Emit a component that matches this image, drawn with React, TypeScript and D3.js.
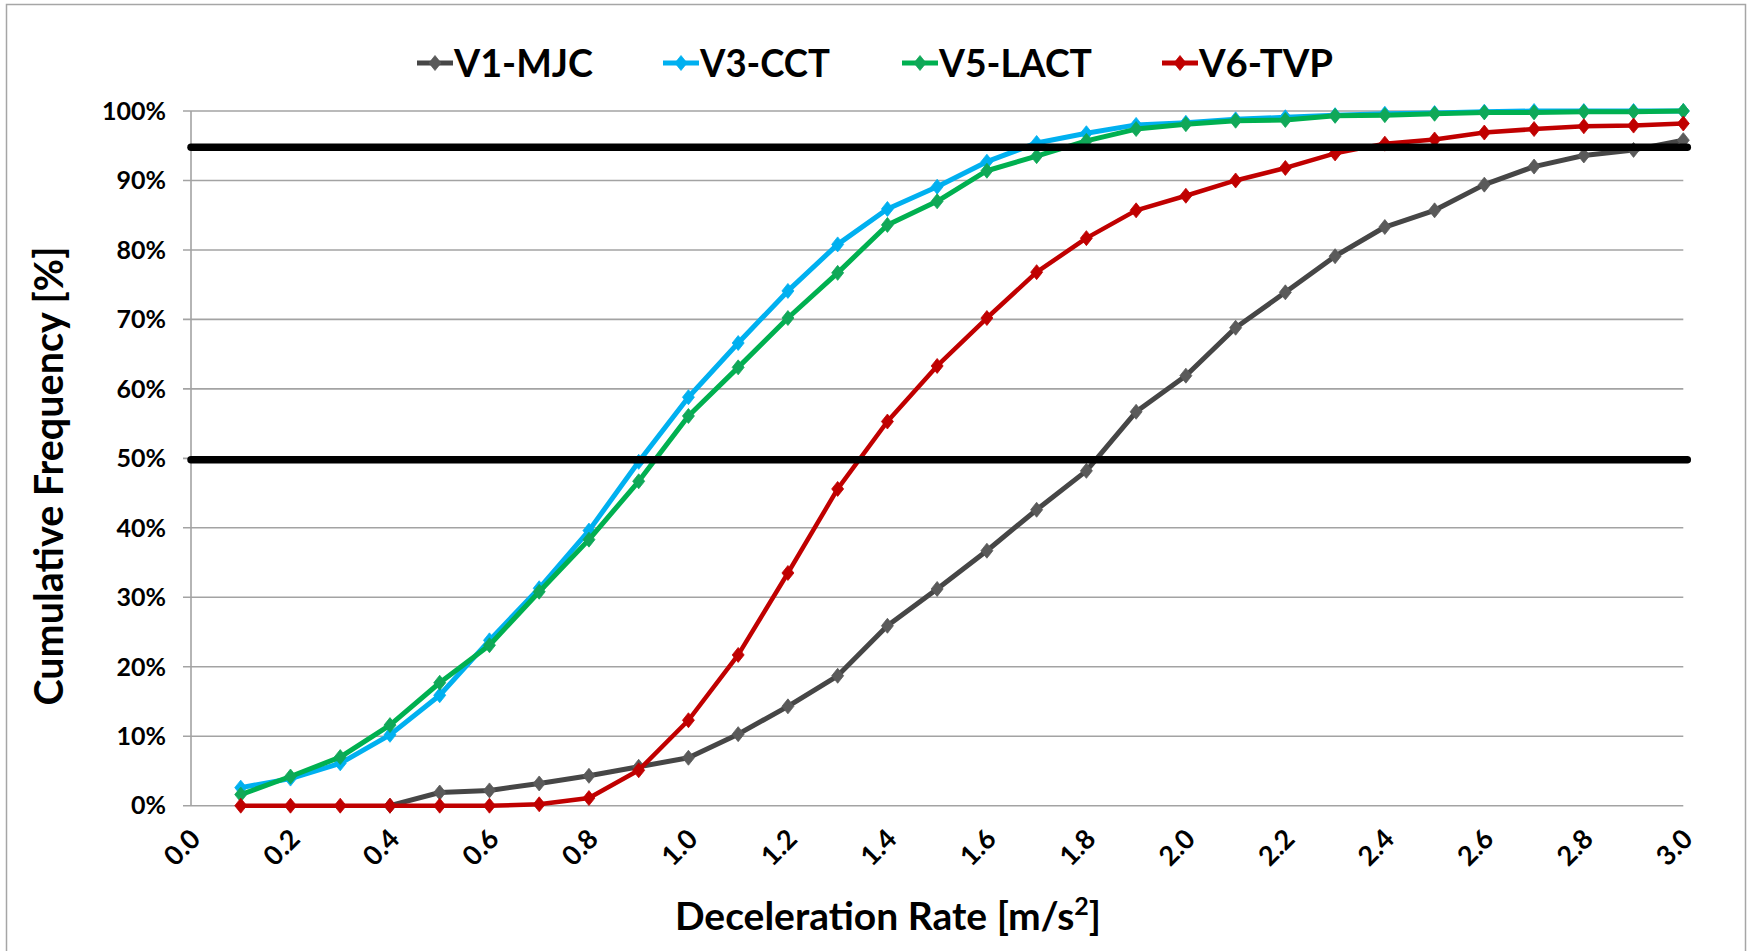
import React from "react";
import * as d3 from "d3";

const decelRate = [0.1, 0.2, 0.3, 0.4, 0.5, 0.6, 0.7, 0.8, 0.9, 1.0, 1.1, 1.2, 1.3, 1.4, 1.5, 1.6, 1.7, 1.8, 1.9, 2.0, 2.1, 2.2, 2.3, 2.4, 2.5, 2.6, 2.7, 2.8, 2.9, 3.0];

const v1MJC = [null, null, null, 0, 1.9, 2.2, 3.2, 4.3, 5.6, 6.9, 10.3, 14.3, 18.7, 25.9, 31.2, 36.7, 42.6, 48.2, 56.7, 61.9, 68.8, 73.9, 79.1, 83.3, 85.7, 89.4, 92.0, 93.6, 94.4, 95.8];
const v3CCT = [2.6, 3.9, 6.1, 10.2, 15.9, 23.8, 31.3, 39.6, 49.5, 58.8, 66.6, 74.1, 80.8, 85.9, 89.1, 92.7, 95.4, 96.8, 98.0, 98.3, 98.8, 99.1, 99.4, 99.6, 99.7, 99.9, 100, 100, 100, 100];
const v5LACT = [1.6, 4.2, 7.0, 11.6, 17.7, 23.1, 30.8, 38.3, 46.7, 56.1, 63.1, 70.2, 76.7, 83.6, 87.0, 91.4, 93.5, 95.7, 97.4, 98.1, 98.6, 98.7, 99.3, 99.4, 99.6, 99.8, 99.8, 99.9, 99.9, 100];
const v6TVP = [0, 0, 0, 0, 0, 0, 0.2, 1.1, 5.1, 12.3, 21.7, 33.5, 45.6, 55.3, 63.3, 70.2, 76.8, 81.7, 85.7, 87.8, 90.0, 91.8, 93.9, 95.3, 95.9, 96.9, 97.4, 97.8, 97.9, 98.2];

const seriesNames = ["V1-MJC", "V3-CCT", "V5-LACT", "V6-TVP"];
const referenceLevels = [95, 50];
const xTicks = [0, 0.2, 0.4, 0.6, 0.8, 1.0, 1.2, 1.4, 1.6, 1.8, 2.0, 2.2, 2.4, 2.6, 2.8, 3.0];
const yTicks = [0, 10, 20, 30, 40, 50, 60, 70, 80, 90, 100];

const FONT = "Lato, 'Open Sans', sans-serif";

export default function App() {
  const W = 1751;
  const H = 951;
  const x = d3.scaleLinear().domain([0, 3]).range([191, 1683.3]);
  const y = d3.scaleLinear().domain([0, 100]).range([805.7, 111]);

  const series = [
    { name: seriesNames[0], values: v1MJC, line: "#464646", marker: "#5a5a5a", width: 5 },
    { name: seriesNames[1], values: v3CCT, line: "#00b0f0", marker: "#00b0f0", width: 5 },
    { name: seriesNames[2], values: v5LACT, line: "#00b050", marker: "#10a858", width: 5 },
    { name: seriesNames[3], values: v6TVP, line: "#c00000", marker: "#c00000", width: 4.5 },
  ];

  const lineGen = d3
    .line<[number, number | null]>()
    .defined((d) => d[1] !== null)
    .x((d) => x(d[0]))
    .y((d) => y(d[1] as number));

  const diamond = "M0,-7.5L6,0L0,7.5L-6,0Z";

  const legend = [
    { lx: 417, tx: 454, w: 139 },
    { lx: 663, tx: 700, w: 130 },
    { lx: 902, tx: 939, w: 153 },
    { lx: 1162, tx: 1199, w: 134 },
  ];

  return (
    <svg
      width={W}
      height={H}
      style={{ position: "absolute", left: 0, top: 0, background: "#fff" }}
      fontFamily={FONT}
    >
      <rect x={0} y={0} width={W} height={H} fill="#fff" />
      <rect x={6.5} y={4.5} width={1739} height={1000} fill="none" stroke="#a6a6a6" strokeWidth={1.5} />

      {/* gridlines */}
      {yTicks.map((t) => (
        <line key={"g" + t} x1={183} x2={x(3)} y1={y(t)} y2={y(t)} stroke="#a3a3a3" strokeWidth={1.6} />
      ))}
      <line x1={x(0)} x2={x(0)} y1={y(100)} y2={y(0)} stroke="#a3a3a3" strokeWidth={1.6} />

      {/* y tick labels */}
      {yTicks.map((t) => (
        <text key={"yl" + t} x={166} y={y(t)} dy="0.35em" textAnchor="end" fontSize={25} fontWeight={700} fill="#000">
          {t + "%"}
        </text>
      ))}

      {/* x tick labels */}
      {xTicks.map((t) => (
        <text
          key={"xl" + t}
          transform={`translate(${x(t) + 11},${y(0) + 35}) rotate(-45)`}
          textAnchor="end"
          fontSize={27}
          fontWeight={700}
          fill="#000"
        >
          {t.toFixed(1)}
        </text>
      ))}

      {/* series */}
      {series.map((s) => {
        const pts = decelRate.map((d, i) => [d, s.values[i]] as [number, number | null]);
        return (
          <g key={s.name}>
            <path d={lineGen(pts) || ""} fill="none" stroke={s.line} strokeWidth={s.width} strokeLinejoin="round" />
            {pts
              .filter((p) => p[1] !== null)
              .map((p, i) => (
                <path key={i} d={diamond} transform={`translate(${x(p[0])},${y(p[1] as number)})`} fill={s.marker} stroke={s.marker} strokeWidth={0.8} />
              ))}
          </g>
        );
      })}

      {/* reference lines */}
      {referenceLevels.map((r) => (
        <line key={"r" + r} x1={x(0)} x2={x(3) + 4} y1={y(r) + 1.5} y2={y(r) + 1.5} stroke="#000" strokeWidth={7.5} strokeLinecap="round" />
      ))}

      {/* legend */}
      {series.map((s, i) => (
        <g key={"lg" + s.name}>
          <line x1={legend[i].lx} x2={legend[i].lx + 36} y1={63} y2={63} stroke={s.line} strokeWidth={5} />
          <path d={diamond} transform={`translate(${legend[i].lx + 18},63)`} fill={s.marker} stroke={s.marker} strokeWidth={0.8} />
          <text x={legend[i].tx} y={76.7} fontSize={38} fontWeight={700} fill="#000" textLength={legend[i].w} lengthAdjust="spacingAndGlyphs">
            {s.name}
          </text>
        </g>
      ))}

      {/* axis titles */}
      <text x={888} y={930} textAnchor="middle" fontSize={39} fontWeight={700} fill="#000">
        Deceleration Rate [m/s<tspan dy={-15} fontSize={25}>2</tspan><tspan dy={15}>]</tspan>
      </text>
      <text transform="translate(63,476) rotate(-90)" textAnchor="middle" fontSize={39.5} fontWeight={700} fill="#000">
        Cumulative Frequency [%]
      </text>
    </svg>
  );
}
